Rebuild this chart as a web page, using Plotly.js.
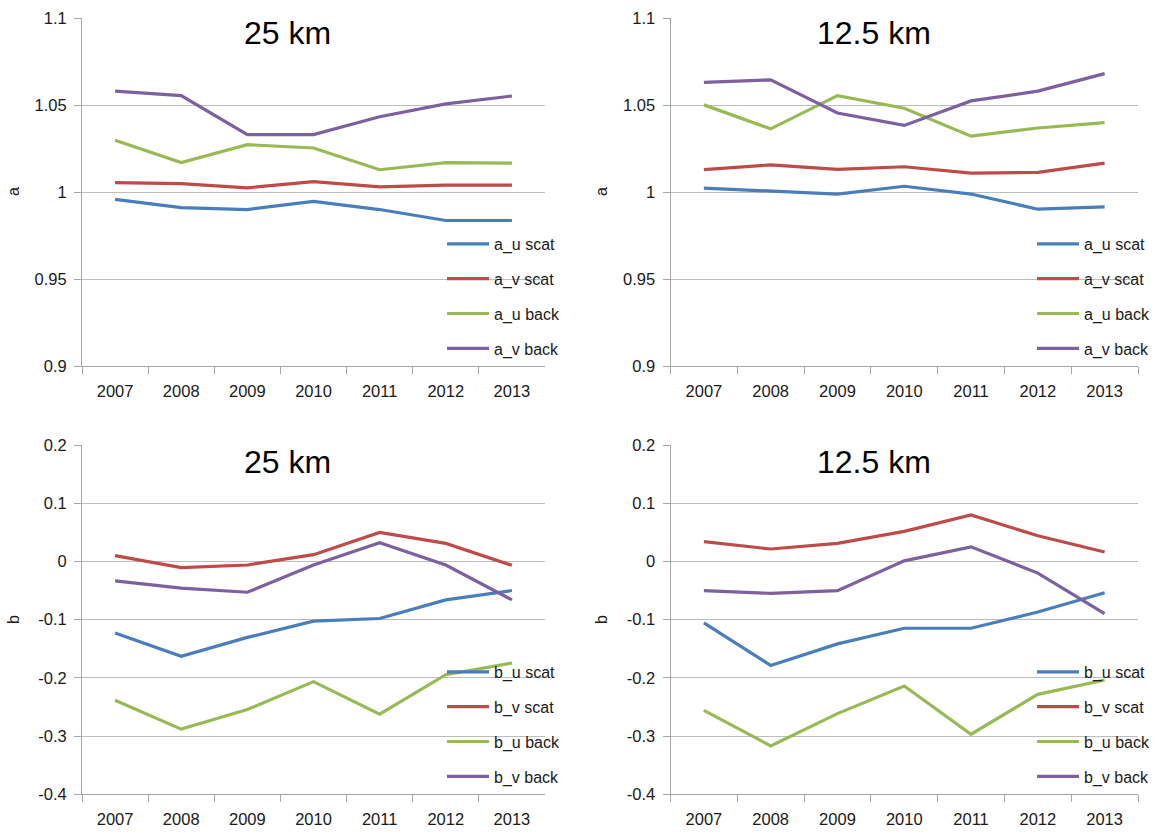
<!DOCTYPE html>
<html>
<head>
<meta charset="utf-8">
<script src="https://cdn.plot.ly/plotly-3.0.1.min.js"></script>
<style>html,body{margin:0;padding:0;background:#fff;}#chart{width:1159px;height:832px;}</style>
</head>
<body>
<div id="chart"></div>
<script>
// Categories
const years = ['2007', '2008', '2009', '2010', '2011', '2012', '2013'];

// Panel titles
const titleA25 = '25 km';
const titleA125 = '12.5 km';
const titleB25 = '25 km';
const titleB125 = '12.5 km';

// Series names
const namesA = ['a_u scat', 'a_v scat', 'a_u back', 'a_v back'];
const namesB = ['b_u scat', 'b_v scat', 'b_u back', 'b_v back'];

// a, 25 km
const a25_u_scat = [0.9958, 0.9911, 0.9900, 0.9947, 0.9900, 0.9837, 0.9837];
const a25_v_scat = [1.0055, 1.0049, 1.0025, 1.0061, 1.0030, 1.0040, 1.0040];
const a25_u_back = [1.0299, 1.0170, 1.0273, 1.0254, 1.0129, 1.0170, 1.0167];
const a25_v_back = [1.0581, 1.0555, 1.0331, 1.0331, 1.0434, 1.0508, 1.0553];

// a, 12.5 km
const a125_u_scat = [1.0023, 1.0008, 0.9989, 1.0034, 0.9989, 0.9902, 0.9915];
const a125_v_scat = [1.0129, 1.0157, 1.0131, 1.0146, 1.0110, 1.0114, 1.0167];
const a125_u_back = [1.0502, 1.0364, 1.0555, 1.0483, 1.0322, 1.0369, 1.0400];
const a125_v_back = [1.0631, 1.0646, 1.0455, 1.0384, 1.0525, 1.0581, 1.0682];

// b, 25 km
const b25_u_scat = [-0.1230, -0.1630, -0.1305, -0.1026, -0.0980, -0.0660, -0.0500];
const b25_v_scat = [0.0099, -0.0107, -0.0061, 0.0116, 0.0498, 0.0310, -0.0067];
const b25_u_back = [-0.2384, -0.2880, -0.2544, -0.2065, -0.2624, -0.1945, -0.1745];
const b25_v_back = [-0.0335, -0.0460, -0.0529, -0.0061, 0.0321, -0.0061, -0.0660];

// b, 12.5 km
const b125_u_scat = [-0.1056, -0.1787, -0.1416, -0.1148, -0.1148, -0.0868, -0.0537];
const b125_v_scat = [0.0339, 0.0214, 0.0311, 0.0516, 0.0800, 0.0440, 0.0163];
const b125_u_back = [-0.2557, -0.3168, -0.2614, -0.2140, -0.2968, -0.2283, -0.2037];
const b125_v_back = [-0.0503, -0.0548, -0.0503, 0.0010, 0.0250, -0.0200, -0.0896];

// Tick labels
const aTickVals = [0.9, 0.95, 1, 1.05, 1.1];
const aTickText = ['0.9', '0.95', '1', '1.05', '1.1'];
const bTickVals = [-0.4, -0.3, -0.2, -0.1, 0, 0.1, 0.2];
const bTickText = ['-0.4', '-0.3', '-0.2', '-0.1', '0', '0.1', '0.2'];

const colors = ['#4A7EBB', '#BE4B48', '#98B954', '#7D60A0'];
const FONT = 'Liberation Sans, Arial, sans-serif';
const W = 1159, H = 832;

function series(vals, names, xa, ya, leg, prefix) {
  return vals.map((v, i) => ({
    type: 'scatter', mode: 'lines', x: years, y: v, name: names[i],
    xaxis: xa, yaxis: ya, legend: leg, legendgroup: prefix + i,
    line: {color: colors[i], width: 3.2},
    hoverinfo: 'x+y+name'
  }));
}

const data = [].concat(
  series([a25_u_scat, a25_v_scat, a25_u_back, a25_v_back], namesA, 'x', 'y', 'legend', 'a25'),
  series([a125_u_scat, a125_v_scat, a125_u_back, a125_v_back], namesA, 'x2', 'y2', 'legend2', 'a125'),
  series([b25_u_scat, b25_v_scat, b25_u_back, b25_v_back], namesB, 'x3', 'y3', 'legend3', 'b25'),
  series([b125_u_scat, b125_v_scat, b125_u_back, b125_v_back], namesB, 'x4', 'y4', 'legend4', 'b125')
);

const px = v => v / W;
const py = v => 1 - v / H;

const leftX = [px(82), px(545)];
const rightX = [px(670.5), px(1138)];
const topY = [py(366), py(18.3)];
const botY = [py(794.3), py(445)];

function xax(dom, anchor) {
  return {
    domain: dom, anchor: anchor, type: 'category', range: [-0.5, 6.5],
    showgrid: false, zeroline: false, showline: true, linecolor: '#a6a6a6', linewidth: 1,
    ticks: 'outside', tickson: 'boundaries', ticklen: 7, tickcolor: '#a6a6a6', tickwidth: 1,
    ticklabelstandoff: 10,
    tickfont: {family: FONT, size: 16.5, color: '#1a1a1a'}, fixedrange: true
  };
}
function yax(dom, anchor, range, tv, tt) {
  return {
    domain: dom, anchor: anchor, range: range, tickmode: 'array', tickvals: tv, ticktext: tt,
    showgrid: true, gridcolor: '#bdbdbd', gridwidth: 1, zeroline: false,
    showline: true, linecolor: '#a6a6a6', linewidth: 1,
    ticks: 'outside', ticklen: 7, tickcolor: '#a6a6a6', tickwidth: 1,
    ticklabelstandoff: 4,
    tickfont: {family: FONT, size: 16.5, color: '#1a1a1a'}, fixedrange: true
  };
}
function leg(xp, ytop) {
  return {
    x: px(xp), y: py(ytop), xanchor: 'left', yanchor: 'top', xref: 'paper', yref: 'paper',
    bgcolor: 'rgba(0,0,0,0)', borderwidth: 0, traceorder: 'grouped', tracegroupgap: 11,
    itemwidth: 42, font: {family: FONT, size: 16, color: '#1a1a1a'}
  };
}
function title(text, x, y) {
  return {text: text, x: px(x), y: py(y), xref: 'paper', yref: 'paper', xanchor: 'center', yanchor: 'middle',
    showarrow: false, font: {family: FONT, size: 32, color: '#000'}};
}
function axTitle(text, x, y) {
  return {text: text, x: px(x), y: py(y), xref: 'paper', yref: 'paper', xanchor: 'center', yanchor: 'middle',
    showarrow: false, textangle: -90, font: {family: FONT, size: 16, color: '#1a1a1a'}};
}

const layout = {
  width: W, height: H, autosize: false,
  margin: {l: 0, r: 0, t: 0, b: 0},
  paper_bgcolor: '#fff', plot_bgcolor: 'rgba(0,0,0,0)',
  showlegend: true,
  xaxis: xax(leftX, 'y'), yaxis: yax(topY, 'x', [0.9, 1.1], aTickVals, aTickText),
  xaxis2: xax(rightX, 'y2'), yaxis2: yax(topY, 'x2', [0.9, 1.1], aTickVals, aTickText),
  xaxis3: xax(leftX, 'y3'), yaxis3: yax(botY, 'x3', [-0.4, 0.2], bTickVals, bTickText),
  xaxis4: xax(rightX, 'y4'), yaxis4: yax(botY, 'x4', [-0.4, 0.2], bTickVals, bTickText),
  legend: leg(442, 227),
  legend2: leg(1032, 227),
  legend3: leg(442, 655),
  legend4: leg(1032, 655),
  annotations: [
    title(titleA25, 287, 33), title(titleA125, 874, 33),
    title(titleB25, 287, 462), title(titleB125, 874, 462),
    axTitle('a', 13, 192), axTitle('a', 601, 192),
    axTitle('b', 13, 620), axTitle('b', 601, 620)
  ]
};

Plotly.newPlot('chart', data, layout, {displayModeBar: false});
</script>
</body>
</html>
